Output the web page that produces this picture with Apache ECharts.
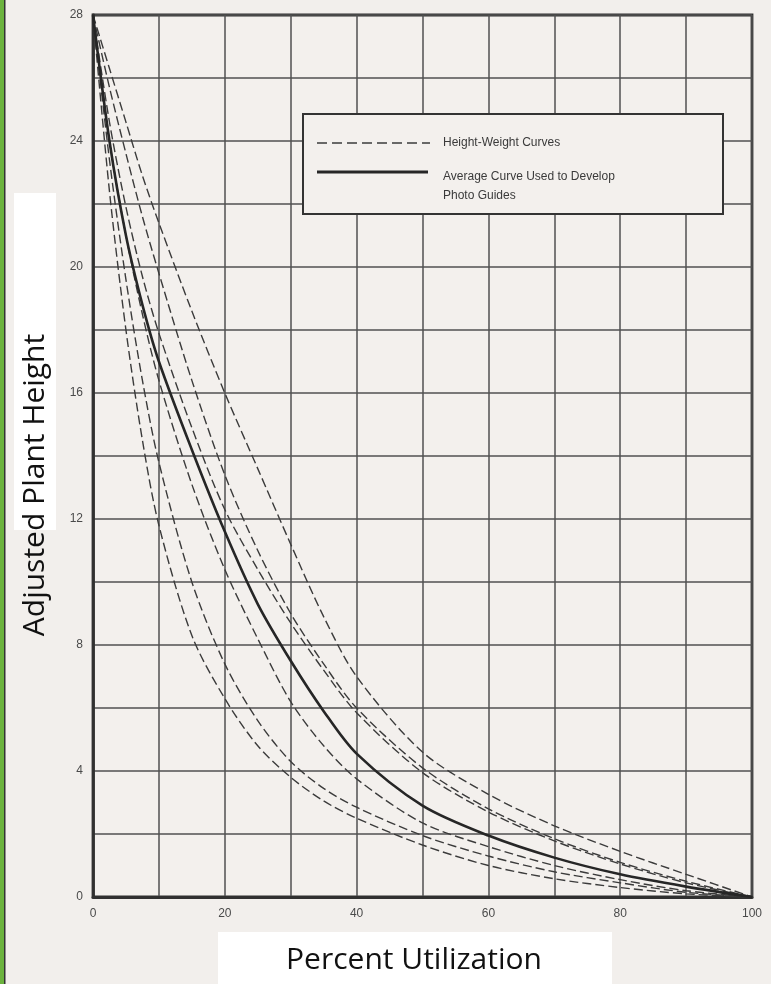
<!DOCTYPE html>
<html>
<head>
<meta charset="utf-8">
<script src="https://cdn.jsdelivr.net/npm/echarts@6/dist/echarts.min.js"></script>
<style>
  html, body { margin: 0; padding: 0; background: #f2efec; }
  #chart { width: 771px; height: 984px; }
</style>
</head>
<body>
<div id="chart"></div>
<script>
// ---- data ----
const xValues = [0, 2.5, 5, 7.5, 10, 15, 20, 25, 30, 35, 40, 50, 60, 70, 80, 90, 100];
const heightWeight1 = [28, 22.4, 18.0, 14.5, 11.8, 8.3, 6.3, 4.8, 3.8, 3.05, 2.5, 1.65, 1.0, 0.58, 0.3, 0.1, 0];
const heightWeight2 = [28, 23.4, 19.6, 16.4, 13.8, 10.0, 7.4, 5.6, 4.3, 3.45, 2.85, 1.95, 1.3, 0.8, 0.45, 0.15, 0];
const heightWeight3 = [28, 24.0, 21.0, 18.5, 16.4, 13.1, 10.4, 8.2, 6.2, 4.8, 3.75, 2.35, 1.6, 1.0, 0.55, 0.2, 0];
const heightWeight4 = [28, 24.6, 21.9, 19.7, 17.9, 14.9, 12.3, 10.4, 8.7, 7.2, 5.85, 3.95, 2.7, 1.78, 1.05, 0.45, 0];
const heightWeight5 = [28, 25.7, 23.6, 21.6, 19.8, 16.4, 13.4, 11.0, 9.0, 7.4, 6.0, 4.1, 2.8, 1.85, 1.1, 0.5, 0];
const heightWeight6 = [28, 26.3, 24.6, 22.9, 21.4, 18.6, 16.0, 13.6, 11.2, 8.9, 7.0, 4.6, 3.26, 2.26, 1.45, 0.72, 0];
const averageCurve = [28, 24.0, 21.0, 18.8, 17.0, 14.2, 11.6, 9.3, 7.5, 5.9, 4.55, 2.9, 1.95, 1.25, 0.72, 0.33, 0];
const xTickLabels = [0, 20, 40, 60, 80, 100];
const yTickLabels = [0, 4, 8, 12, 16, 20, 24, 28];
const legendDashedText = 'Height-Weight Curves';
const legendSolidText = ['Average Curve Used to Develop', 'Photo Guides'];
const xTitle = 'Percent Utilization';
const yTitle = 'Adjusted Plant Height';

const dashedCurves = [heightWeight1, heightWeight2, heightWeight3, heightWeight4, heightWeight5, heightWeight6];
const pairs = ys => xValues.map((x, i) => [x, ys[i]]);

const chart = echarts.init(document.getElementById('chart'), null, { renderer: 'canvas' });

const series = dashedCurves.map(ys => ({
  name: legendDashedText,
  type: 'line',
  data: pairs(ys),
  smooth: 0.3,
  showSymbol: false,
  silent: true,
  lineStyle: { color: '#3b3b3b', width: 1.4, type: [9, 4] },
  z: 3
}));
series.push({
  name: 'Average',
  type: 'line',
  data: pairs(averageCurve),
  smooth: 0.3,
  showSymbol: false,
  silent: true,
  lineStyle: { color: '#262626', width: 2.6 },
  z: 4
});

const option = {
  backgroundColor: '#f2efec',
  animation: false,
  grid: {
    left: 93, right: 19, top: 15, bottom: 87,
    show: true, borderColor: '#303030', borderWidth: 2.8, backgroundColor: '#f3f0ed'
  },
  xAxis: {
    type: 'value', min: 0, max: 100, interval: 10,
    axisLine: { show: true, lineStyle: { color: '#303030', width: 2.8 } },
    axisTick: { show: false },
    axisLabel: {
      color: '#4a4a4a', fontSize: 12, fontFamily: 'Liberation Sans, Arial, sans-serif', margin: 11,
      formatter: v => (xTickLabels.indexOf(v) >= 0 ? String(v) : '')
    },
    splitLine: { show: true, lineStyle: { color: '#505050', width: 1.5 } }
  },
  yAxis: {
    type: 'value', min: 0, max: 28, interval: 2,
    axisLine: { show: true, lineStyle: { color: '#303030', width: 2.8 } },
    axisTick: { show: false },
    axisLabel: {
      color: '#4a4a4a', fontSize: 12, fontFamily: 'Liberation Sans, Arial, sans-serif', margin: 10,
      formatter: v => (yTickLabels.indexOf(v) >= 0 ? String(v) : '')
    },
    splitLine: { show: true, lineStyle: { color: '#505050', width: 1.5 } }
  },
  series: series,
  graphic: [
    { type: 'rect', shape: { x: 0, y: 0, width: 4, height: 984 }, style: { fill: '#6cb33e' }, z: 100 },
    { type: 'rect', shape: { x: 4, y: 0, width: 1.5, height: 984 }, style: { fill: '#333' }, z: 100 },
    { type: 'rect', shape: { x: 303, y: 114, width: 420, height: 100 },
      style: { fill: '#f3f0ed', stroke: '#333', lineWidth: 2 }, z: 50 },
    { type: 'line', shape: { x1: 317, y1: 143, x2: 430, y2: 143 },
      style: { stroke: '#3b3b3b', lineWidth: 1.5, lineDash: [10, 5] }, z: 51 },
    { type: 'line', shape: { x1: 317, y1: 172, x2: 428, y2: 172 },
      style: { stroke: '#262626', lineWidth: 3 }, z: 51 },
    { type: 'text', x: 443, y: 143, style: { text: legendDashedText, fill: '#3a3a3a',
      font: '12px "Liberation Sans", Arial, sans-serif', textVerticalAlign: 'middle' }, z: 51 },
    { type: 'text', x: 443, y: 177, style: { text: legendSolidText[0], fill: '#3a3a3a',
      font: '12px "Liberation Sans", Arial, sans-serif', textVerticalAlign: 'middle' }, z: 51 },
    { type: 'text', x: 443, y: 196, style: { text: legendSolidText[1], fill: '#3a3a3a',
      font: '12px "Liberation Sans", Arial, sans-serif', textVerticalAlign: 'middle' }, z: 51 },
    { type: 'rect', shape: { x: 14, y: 193, width: 42, height: 337 }, style: { fill: '#ffffff' }, z: 60 },
    { type: 'text', x: 35, y: 485, rotation: Math.PI / 2,
      style: { text: yTitle, fill: '#111', font: '30px "Open Sans", sans-serif',
        textAlign: 'center', textVerticalAlign: 'middle' }, z: 61 },
    { type: 'rect', shape: { x: 218, y: 932, width: 394, height: 52 }, style: { fill: '#ffffff' }, z: 60 },
    { type: 'text', x: 414, y: 960,
      style: { text: xTitle, fill: '#111', font: '30px "Open Sans", sans-serif',
        textAlign: 'center', textVerticalAlign: 'middle' }, z: 61 }
  ]
};
chart.setOption(option);
</script>
</body>
</html>
